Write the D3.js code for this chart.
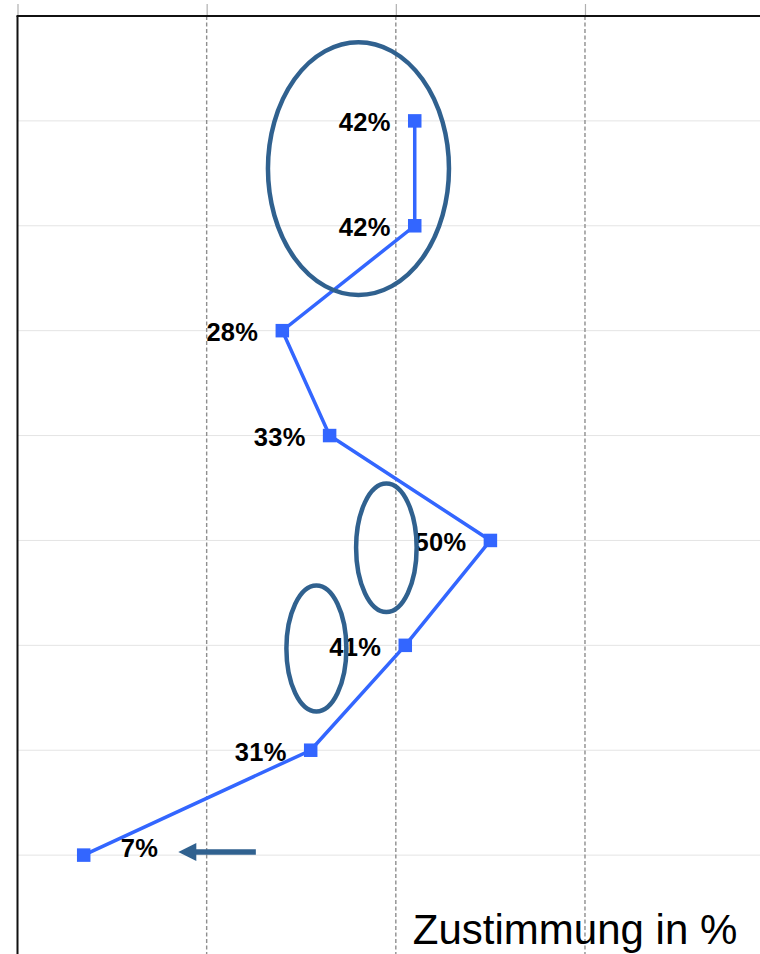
<!DOCTYPE html>
<html>
<head>
<meta charset="utf-8">
<script src="https://cdn.jsdelivr.net/npm/d3@7"></script>
<style>
  html, body { margin: 0; padding: 0; background: #fff; }
  svg { display: block; }
</style>
</head>
<body>
<svg id="chart" width="760" height="954"></svg>
<script>
// ---- data ----
const categories = ["1", "2", "3", "4", "5", "6", "7", "8"];
const values = [42, 42, 28, 33, 50, 41, 31, 7];
const xTicks = [0, 20, 40, 60, 80, 100];
const axisTitle = "Zustimmung in %";
// annotation ellipses: centre value (%), centre category index, radius in % and in category steps
const ellipseCx = [36.05, 39.0, 31.6];
const ellipseCy = [0.455, 4.07, 5.03];
const ellipseRx = [9.57, 3.2, 3.17];
const ellipseRy = [1.205, 0.612, 0.60];
// annotation arrow: from value, to value, at category index
const arrowFrom = [25.2];
const arrowTo = [17.0];
const arrowAt = [6.97];

// ---- layout ----
const svg = d3.select("#chart");
const mLeft = 17.5, mTop = 16, plotW = 945.8, plotH = 944;

const x = d3.scaleLinear().domain([0, 100]).range([mLeft, mLeft + plotW]);
const y = d3.scalePoint().domain(categories).range([mTop, mTop + plotH]).padding(1);
const yIdx = d3.scaleLinear().domain([0, categories.length - 1])
  .range([y(categories[0]), y(categories[categories.length - 1])]);

// horizontal light gridlines
svg.append("g").selectAll("line").data(categories).join("line")
  .attr("x1", mLeft).attr("x2", mLeft + plotW)
  .attr("y1", d => y(d)).attr("y2", d => y(d))
  .attr("stroke", "#e4e4e4").attr("stroke-width", 1);

// vertical dashed gridlines
svg.append("g").selectAll("line").data(xTicks.filter(t => t > 0)).join("line")
  .attr("x1", d => x(d)).attr("x2", d => x(d))
  .attr("y1", mTop).attr("y2", mTop + plotH)
  .attr("stroke", "#8f8f8f").attr("stroke-width", 1.4)
  .attr("stroke-dasharray", "4,2.5");

// top axis ticks (no labels visible)
const axTop = svg.append("g").attr("transform", `translate(0,${mTop})`)
  .call(d3.axisTop(x).tickValues(xTicks).tickSize(12).tickFormat(""));
axTop.select(".domain").remove();
axTop.selectAll(".tick line").attr("stroke", "#b0b0b0").attr("stroke-width", 1.2);

// frame (top and left visible)
svg.append("line").attr("x1", mLeft - 1).attr("x2", mLeft + plotW).attr("y1", mTop).attr("y2", mTop)
  .attr("stroke", "#111").attr("stroke-width", 2);
svg.append("line").attr("x1", mLeft).attr("x2", mLeft).attr("y1", mTop).attr("y2", mTop + plotH)
  .attr("stroke", "#111").attr("stroke-width", 2);

const pts = categories.map((c, i) => ({ c, v: values[i], i }));

// line
svg.append("path").datum(pts)
  .attr("fill", "none").attr("stroke", "#3366ff").attr("stroke-width", 3.5)
  .attr("d", d3.line().x(d => x(d.v)).y(d => y(d.c)));

// markers
const ms = 13.5;
svg.append("g").selectAll("rect").data(pts).join("rect")
  .attr("x", d => x(d.v) - ms / 2).attr("y", d => y(d.c) - ms / 2)
  .attr("width", ms).attr("height", ms).attr("fill", "#3366ff");

// labels
svg.append("g").selectAll("text").data(pts).join("text")
  .attr("x", d => d.v < 10 ? x(d.v) + 37 : x(d.v) - 24)
  .attr("y", d => d.v < 10 ? y(d.c) + 1.5 : y(d.c) + 10.5)
  .attr("text-anchor", d => d.v < 10 ? "start" : "end")
  .attr("font-family", "Liberation Sans, Arial, sans-serif")
  .attr("font-weight", "bold").attr("font-size", 25.5)
  .attr("letter-spacing", 0.3)
  .attr("fill", "#000")
  .text(d => d.v + "%");

// annotation ellipses
const ell = ellipseCx.map((cx, i) => ({ cx, cy: ellipseCy[i], rx: ellipseRx[i], ry: ellipseRy[i] }));
const step = y.step();
svg.append("g").selectAll("ellipse").data(ell).join("ellipse")
  .attr("cx", d => x(d.cx)).attr("cy", d => yIdx(d.cy))
  .attr("rx", d => x(d.rx) - x(0)).attr("ry", d => d.ry * step)
  .attr("fill", "none").attr("stroke", "#30618f").attr("stroke-width", 4.5);

// annotation arrow
const arr = arrowFrom.map((f, i) => ({ f, t: arrowTo[i], at: arrowAt[i] }));
const ag = svg.append("g");
arr.forEach(a => {
  const yy = yIdx(a.at);
  const x0 = x(a.f), x1 = x(a.t);
  ag.append("line").attr("x1", x0).attr("x2", x1 + 14).attr("y1", yy).attr("y2", yy)
    .attr("stroke", "#30618f").attr("stroke-width", 5.5);
  ag.append("path")
    .attr("d", `M${x1},${yy} L${x1 + 18},${yy - 9} L${x1 + 18},${yy + 9} Z`)
    .attr("fill", "#30618f");
});

// axis title
svg.append("text")
  .attr("x", x(100)).attr("dx", -226)
  .attr("y", mTop + plotH).attr("dy", -16)
  .attr("text-anchor", "end")
  .attr("font-family", "Liberation Sans, Arial, sans-serif")
  .attr("font-size", 42).attr("fill", "#000")
  .text(axisTitle);
</script>
</body>
</html>
